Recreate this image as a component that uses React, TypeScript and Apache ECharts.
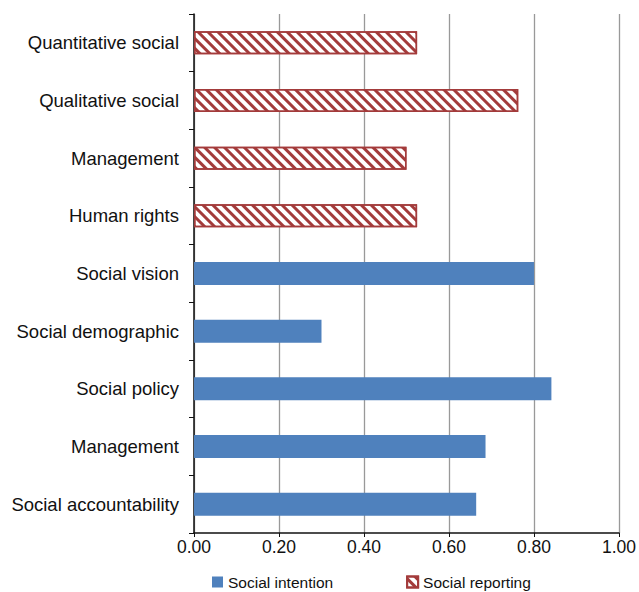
import React, { useEffect, useRef } from "react";
import * as echarts from "echarts";

const categories = [
  "Social accountability",
  "Management",
  "Social policy",
  "Social demographic",
  "Social vision",
  "Human rights",
  "Management",
  "Qualitative social",
  "Quantitative social",
];
const socialIntention = [0.664, 0.686, 0.841, 0.3, 0.8, null, null, null, null];
const socialReporting = [null, null, null, null, null, 0.525, 0.5, 0.763, 0.525];
const xTicks = [0, 0.2, 0.4, 0.6, 0.8, 1.0];

export default function App() {
  const ref = useRef<HTMLDivElement>(null);
  useEffect(() => {
    const chart = echarts.init(ref.current!, null, { renderer: "svg" });
    const red = "#a33b3b";
    chart.setOption({
      animation: false,
      textStyle: { fontFamily: "Liberation Sans" },
      grid: { left: 194, right: 18, top: 14, bottom: 59 },
      legend: {
        left: 212,
        top: 574,
        itemWidth: 11,
        itemHeight: 11,
        itemGap: 73,
        icon: "rect",
        padding: 0,
        textStyle: { fontSize: 15.5, color: "#111", fontFamily: "Liberation Sans" },
        data: ["Social intention", "Social reporting"],
      },
      xAxis: {
        type: "value",
        min: 0,
        max: 1,
        interval: 0.2,
        axisLine: { show: true, lineStyle: { color: "#111", width: 1.5 } },
        axisTick: { show: true, length: 4, lineStyle: { color: "#111" } },
        splitLine: { show: true, lineStyle: { color: "#999", width: 1.3 } },
        axisLabel: {
          margin: 5,
          fontSize: 17.5,
          color: "#111",
          formatter: (v: number) => (xTicks.includes(Math.round(v * 10) / 10) ? v.toFixed(2) : ""),
        },
      },
      yAxis: {
        type: "category",
        data: categories,
        axisLine: { show: true, lineStyle: { color: "#111", width: 1.5 } },
        axisTick: { show: true, length: 5, lineStyle: { color: "#111" } },
        axisLabel: { margin: 15, fontSize: 18.5, color: "#111" },
      },
      series: [
        {
          name: "Social intention",
          type: "bar",
          data: socialIntention,
          barCategoryGap: "60%",
          barGap: "-100%",
          itemStyle: { color: "#4f81bd" },
        },
        {
          name: "Social reporting",
          type: "bar",
          data: socialReporting,
          barCategoryGap: "60%",
          barGap: "-100%",
          itemStyle: {
            color: "#ffffff",
            borderColor: red,
            borderWidth: 1.5,
            decal: {
              symbol: "rect",
              color: red,
              backgroundColor: "#ffffff",
              dashArrayX: [1, 0],
              dashArrayY: [3, 3.5],
              rotation: Math.PI / 4,
              symbolSize: 1,
            },
          },
        },
      ],
    });
    return () => chart.dispose();
  }, []);
  return <div ref={ref} style={{ width: 639, height: 592, position: "absolute", left: 0, top: 0 }} />;
}
